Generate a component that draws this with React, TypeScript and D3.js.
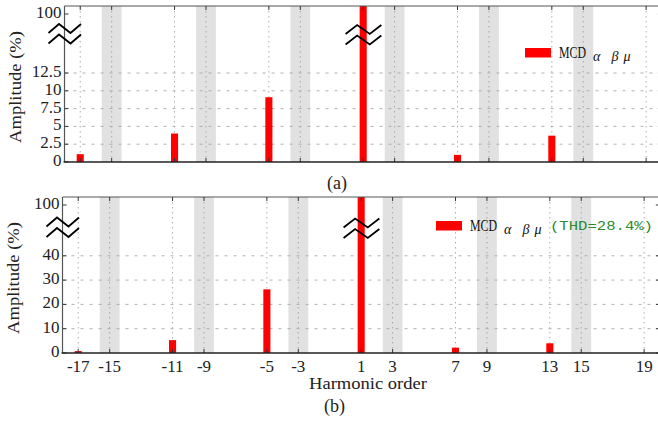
import React from 'react';
import * as d3 from 'd3';

const harmonics = [-17, -11, -5, 1, 7, 13];
const amplitudeA = [1.1, 4.0, 9.1, 100, 1.0, 3.7];
const amplitudeB = [0.8, 5.3, 26.2, 100, 2.2, 4.0];
const xTickValues = [-17, -15, -11, -9, -5, -3, 1, 3, 7, 9, 13, 15, 19];
const bandCenters = [-15, -9, -3, 3, 9, 15];
const yTicksA = [0, 2.5, 5, 7.5, 10, 12.5, 100];
const yTicksB = [0, 10, 20, 30, 40, 100];
const seriesName = 'MCD';
const seriesSub = ['α', 'β', 'μ'];
const thdLabel = '(THD=28.4%)';
const panelLabels = ['(a)', '(b)'];
const xTitle = 'Harmonic order';
const yTitle = 'Amplitude (%)';

const W = 658;
const H = 426;
const SERIF = "'Liberation Serif', 'Times New Roman', Times, serif";
const MONO = "'Liberation Mono', 'DejaVu Sans Mono', monospace";
const PX_PER_UNIT = 15.72;
const SUB_OFFSETS = [68, 86.5, 98.5];

const serif = (size: number, extra: React.CSSProperties = {}): React.CSSProperties => ({
  fontFamily: SERIF,
  fontSize: `${size}px`,
  ...extra,
});

type PanelProps = {
  left: number;
  top: number;
  bottom: number;
  values: number[];
  yTicks: number[];
  yBreakDomain: number;
  yBreakPx: number;
  breakY: number;
  showXLabels: boolean;
  legend: React.ReactNode;
};

function BreakMark({ cx, cy, w = 1 }: { cx: number; cy: number; w?: number }) {
  const dx = [-16 * w, -5.5 * w, 6 * w, 16.5 * w];
  const dy = [4.5, -4.5, 4.5, -4.5];
  const line = d3.line<number>().x((d, i) => cx + dx[i]).y((d) => d);
  const upper = dy.map((v) => cy - 5 + v);
  const lower = dy.map((v) => cy + 5.5 + v);
  return (
    <g fill="none" stroke="#000" strokeWidth={1.8} strokeLinejoin="miter">
      <path d={line(upper) || ''} />
      <path d={line(lower) || ''} />
    </g>
  );
}

function Panel(p: PanelProps) {
  const right = p.left + 38 * PX_PER_UNIT;
  const x = d3.scaleLinear().domain([-18, 20]).range([p.left, right]);
  const linTop = p.bottom - p.yBreakDomain * p.yBreakPx;
  const y = d3
    .scaleLinear()
    .domain([0, p.yBreakDomain, 100])
    .range([p.bottom, linTop, p.top + 8]);
  const bw = 0.45 * PX_PER_UNIT;
  const bandHalf = 0.63;
  const gridY = p.yTicks.filter((t) => t > 0 && t < 100);
  const clipId = `clip-${p.top}`;
  return (
    <g>
      <defs>
        <clipPath id={clipId}>
          <rect x={p.left} y={p.top} width={right - p.left} height={p.bottom - p.top} />
        </clipPath>
      </defs>
      <g clipPath={`url(#${clipId})`}>
        {bandCenters.map((c) => (
          <rect
            key={c}
            x={x(c - bandHalf)}
            y={p.top}
            width={x(c + bandHalf) - x(c - bandHalf)}
            height={p.bottom - p.top}
            fill="#e1e1e1"
          />
        ))}
        {xTickValues.map((t) => (
          <line
            key={t}
            x1={x(t)}
            x2={x(t)}
            y1={p.top}
            y2={p.bottom}
            stroke="#9a9a9a"
            strokeWidth={0.8}
            strokeDasharray="1.5,3.5"
          />
        ))}
        {gridY.map((t) => (
          <line
            key={t}
            x1={p.left}
            x2={right}
            y1={y(t)}
            y2={y(t)}
            stroke="#a8a8a8"
            strokeWidth={0.9}
            strokeDasharray="3,6"
          />
        ))}
        {harmonics.map((h, i) => {
          const v = p.values[i];
          const yy = v >= 100 ? p.top : y(v);
          return (
            <rect key={h} x={x(h) - bw / 2} y={yy} width={bw} height={p.bottom - yy} fill="#ff0000" />
          );
        })}
      </g>
      {xTickValues.map((t) => (
        <g key={t} stroke="#333" strokeWidth={1}>
          <line x1={x(t)} x2={x(t)} y1={p.bottom} y2={p.bottom - 4} />
          <line x1={x(t)} x2={x(t)} y1={p.top} y2={p.top + 4} />
        </g>
      ))}
      {p.yTicks.map((t) => (
        <g key={t} stroke="#333" strokeWidth={1}>
          <line x1={p.left} x2={p.left + 4} y1={y(t)} y2={y(t)} />
          <line x1={right} x2={right - 4} y1={y(t)} y2={y(t)} />
        </g>
      ))}
      <line x1={p.left} x2={right} y1={p.top} y2={p.top} stroke="#555" strokeWidth={1.2} />
      <line x1={p.left} x2={p.left} y1={p.top} y2={p.bottom} stroke="#555" strokeWidth={1.2} />
      <line x1={right} x2={right} y1={p.top} y2={p.bottom} stroke="#555" strokeWidth={1.2} />
      <line x1={p.left - 1} x2={right} y1={p.bottom} y2={p.bottom} stroke="#222" strokeWidth={1.6} />
      {p.yTicks.map((t) => (
        <text key={t} x={p.left - 3} y={y(t) + 4} textAnchor="end" style={serif(17)} fill="#222">
          {String(t)}
        </text>
      ))}
      {p.showXLabels &&
        xTickValues.map((t) => (
          <text key={t} x={x(t)} y={p.bottom + 18.5} textAnchor="middle" style={serif(17)} fill="#222">
            {t < 0 ? `-${Math.abs(t)}` : String(t)}
          </text>
        ))}
      <text
        transform={`translate(${p.left - 44},${(p.top + p.bottom) / 2 + 3}) rotate(-90)`}
        textAnchor="middle"
        style={serif(17)}
        fill="#222"
        textLength={112}
        lengthAdjust="spacingAndGlyphs"
      >
        {yTitle}
      </text>
      <BreakMark cx={p.left} cy={p.top + p.breakY} />
      <BreakMark cx={x(1)} cy={p.top + p.breakY + 1} w={1.1} />
      {p.legend}
    </g>
  );
}

function Legend({ x0, y0, thd }: { x0: number; y0: number; thd?: string }) {
  return (
    <g>
      <rect x={x0} y={y0 - 9.5} width={26} height={9.5} fill="#ff0000" />
      <text
        transform={`translate(${x0 + 34},${y0}) scale(1,1.38)`}
        style={serif(12.5)}
        fill="#111"
        textLength={27}
        lengthAdjust="spacingAndGlyphs"
      >
        {seriesName}
      </text>
      {seriesSub.map((s, i) => (
        <text
          key={s}
          x={x0 + SUB_OFFSETS[i]}
          y={y0 + 3.5}
          style={serif(14, { fontStyle: 'italic' })}
          fill="#111"
        >
          {s}
        </text>
      ))}
      {thd && (
        <text
          x={x0 + 114}
          y={y0 - 0.5}
          style={{ fontFamily: MONO, fontSize: '13px' }}
          fill="#2a8a2a"
          textLength={103}
          lengthAdjust="spacingAndGlyphs"
        >
          {thd}
        </text>
      )}
    </g>
  );
}

export default function App() {
  return (
    <svg
      width={W}
      height={H}
      viewBox={`0 0 ${W} ${H}`}
      style={{ position: 'absolute', left: 0, top: 0, background: '#fff' }}
    >
      <rect width={W} height={H} fill="#fff" />
      <Panel
        left={64.5}
        top={6}
        bottom={162}
        values={amplitudeA}
        yTicks={yTicksA}
        yBreakDomain={15}
        yBreakPx={7.12}
        breakY={27.5}
        showXLabels={false}
        legend={<Legend x0={525} y0={57.5} />}
      />
      <Panel
        left={62.5}
        top={197}
        bottom={353}
        values={amplitudeB}
        yTicks={yTicksB}
        yBreakDomain={45}
        yBreakPx={2.43}
        breakY={30}
        showXLabels={true}
        legend={<Legend x0={436} y0={230.5} thd={thdLabel} />}
      />
      <text x={337} y={189} textAnchor="middle" style={serif(18)} fill="#222">
        {panelLabels[0]}
      </text>
      <text x={334.5} y={411.5} textAnchor="middle" style={serif(18)} fill="#222">
        {panelLabels[1]}
      </text>
      <text
        x={368}
        y={389}
        textAnchor="middle"
        style={serif(16)}
        fill="#222"
        textLength={118}
        lengthAdjust="spacingAndGlyphs"
      >
        {xTitle}
      </text>
    </svg>
  );
}
